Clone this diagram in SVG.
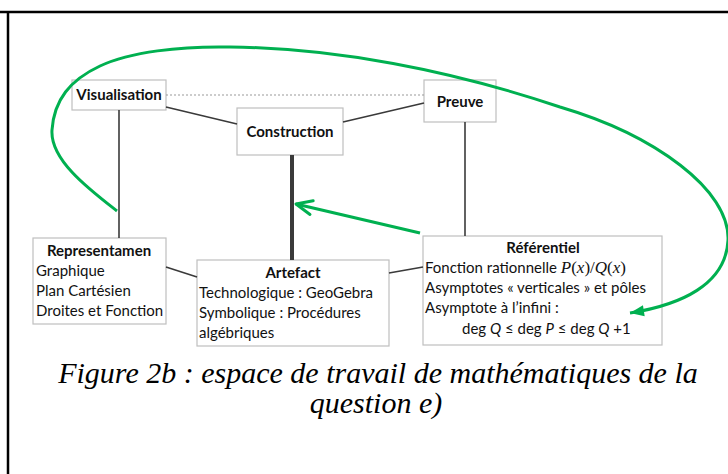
<svg xmlns="http://www.w3.org/2000/svg" width="728" height="474" viewBox="0 0 728 474">
<style>
.box{fill:#fff;stroke:#bfbfbf;stroke-width:1.2}
.t{font-family:Lato,"Liberation Sans",sans-serif;font-size:15px;fill:#111}
.b{font-weight:bold;text-anchor:middle}
.m{font-family:"Liberation Serif",serif;font-size:17px}
.i{font-style:italic}
.ln{stroke:#3a3a3a;stroke-width:1.6;fill:none}
.g{stroke:#00b050;stroke-width:3;fill:none}
.cap{font-family:"Liberation Serif","Times New Roman",serif;font-style:italic;font-size:30px;fill:#000;text-anchor:middle}
</style>
<defs>
<marker id="open" markerUnits="userSpaceOnUse" viewBox="-20 -10 22 20" refX="0" refY="0" markerWidth="22" markerHeight="20" orient="auto">
<path d="M-16,-7 L0,0 L-16,7" fill="none" stroke="#00b050" stroke-width="3" stroke-linecap="round" stroke-linejoin="round"/>
</marker>
<marker id="fill" markerUnits="userSpaceOnUse" viewBox="-16 -8 18 16" refX="0" refY="0" markerWidth="18" markerHeight="16" orient="auto">
<path d="M-14,-5.5 L0,0 L-14,5.5 Z" fill="#00b050"/>
</marker>
</defs>
<rect width="728" height="474" fill="#fff"/>
<g id="frame" stroke="#000" stroke-width="2.5">
<line x1="0" y1="12" x2="728" y2="12"/>
<line x1="8" y1="11" x2="8" y2="474"/>
</g>
<g id="visualisation">
<rect class="box" x="72" y="80" width="94" height="30"/>
<text class="t b" x="119" y="100">Visualisation</text>
</g>
<g id="construction">
<rect class="box" x="237" y="108" width="106" height="47"/>
<text class="t b" x="290" y="137">Construction</text>
</g>
<g id="preuve">
<rect class="box" x="424" y="80" width="72" height="42"/>
<text class="t b" x="460" y="107">Preuve</text>
</g>
<g id="representamen">
<rect class="box" x="33" y="238" width="133" height="86"/>
<text class="t b" x="99" y="256">Representamen</text>
<text class="t" x="36" y="276">Graphique</text>
<text class="t" x="36" y="296">Plan Cartésien</text>
<text class="t" x="36" y="316">Droites et Fonction</text>
</g>
<g id="artefact">
<rect class="box" x="197" y="260" width="192" height="86"/>
<text class="t b" x="293" y="278">Artefact</text>
<text class="t" x="199" y="298">Technologique : GeoGebra</text>
<text class="t" x="199" y="318">Symbolique : Procédures</text>
<text class="t" x="199" y="338">algébriques</text>
</g>
<g id="referentiel">
<rect class="box" x="423" y="236" width="239" height="109"/>
<text class="t b" x="543" y="253">Référentiel</text>
<text class="t" x="425" y="273">Fonction rationnelle <tspan class="m i">P</tspan><tspan class="m">(</tspan><tspan class="m i">x</tspan><tspan class="m">)/</tspan><tspan class="m i">Q</tspan><tspan class="m">(</tspan><tspan class="m i">x</tspan><tspan class="m">)</tspan></text>
<text class="t" x="425" y="293">Asymptotes « verticales » et pôles</text>
<text class="t" x="425" y="313">Asymptote à l’infini :</text>
<text class="t" x="462" y="334">deg <tspan class="i">Q</tspan> ≤ deg <tspan class="i">P</tspan> ≤ deg <tspan class="i">Q</tspan> +1</text>
</g>
<g id="connectors">
<line x1="166" y1="95" x2="424" y2="95" stroke="#999" stroke-width="1" stroke-dasharray="2,2"/>
<line class="ln" x1="166" y1="107" x2="237" y2="124"/>
<line class="ln" x1="343" y1="122" x2="424" y2="103"/>
<line class="ln" x1="119" y1="110" x2="119" y2="238"/>
<line class="ln" x1="465" y1="122" x2="465" y2="236"/>
<line x1="292" y1="155" x2="292" y2="260" stroke="#3a3a3a" stroke-width="4"/>
<line class="ln" x1="166" y1="267" x2="197" y2="277"/>
<line class="ln" x1="389" y1="273" x2="423" y2="267"/>
<path class="g" d="M420,233 L296,204" marker-end="url(#open)"/>
<path class="g" d="M117,211 C90,190 50,160 52,130 C54,100 70,80 100,66 C130,52 180,46 230,47 C335,48 450,70 560,107 C655,135 730,190 728,240 C726,285 680,305 630,313" marker-end="url(#fill)"/>
</g>
<g id="caption">
<text class="cap" x="378" y="383">Figure 2b : espace de travail de mathématiques de la</text>
<text class="cap" x="376" y="413">question e)</text>
</g>
</svg>
